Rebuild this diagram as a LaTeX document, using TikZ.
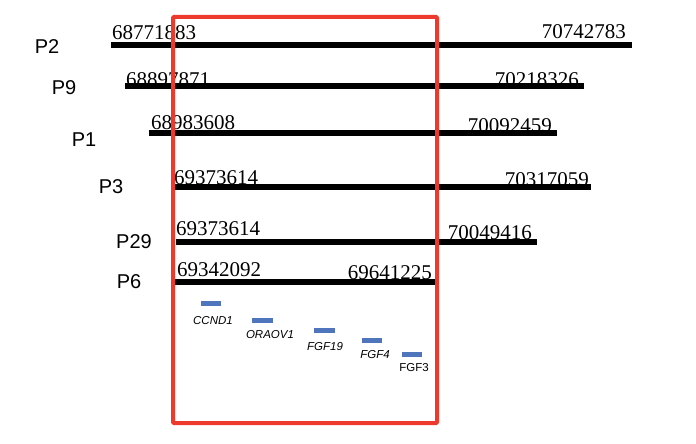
\documentclass[tikz,border=0pt]{standalone}
\usepackage{fontspec}
\setmainfont{Liberation Serif}
\newfontfamily\arialfont{Liberation Sans}
\definecolor{boxred}{HTML}{EE3A2C}
\definecolor{geneblue}{HTML}{4F75BC}
\begin{document}
\begin{tikzpicture}[x=1pt,y=-1pt,
  bar/.style={line width=6.5pt,black},
  numtxt/.style={inner sep=0pt,font=\fontsize{21}{21}\selectfont},
  lpostxt/.style={numtxt,anchor=base west},
  rpostxt/.style={numtxt,anchor=base east},
  pname/.style={inner sep=0pt,font=\arialfont\fontsize{20}{20}\selectfont},
  gene/.style={line width=5pt,geneblue},
  glab/.style={inner sep=0pt,font=\arialfont\itshape\fontsize{11.5}{11.5}\selectfont},
  glabup/.style={inner sep=0pt,font=\arialfont\fontsize{11.5}{11.5}\selectfont}]
\useasboundingbox (0,0) rectangle (696,444);
% patient labels
\node[pname] (nP2) at (47,47) {P2};
\node[pname] (nP9) at (64,88) {P9};
\node[pname] (nP1) at (84,140) {P1};
\node[pname] (nP3) at (111,187) {P3};
\node[pname] (nP29) at (134,242) {P29};
\node[pname] (nP6) at (129,282) {P6};
% bars
\coordinate (a2) at (111,45);  \coordinate (b2) at (632,45);
\coordinate (a9) at (125,86);  \coordinate (b9) at (584,86);
\coordinate (a1) at (149,133); \coordinate (b1) at (557,133);
\coordinate (a3) at (174,187); \coordinate (b3) at (591,187);
\coordinate (a29) at (176,242); \coordinate (b29) at (537,242);
\coordinate (a6) at (172,282); \coordinate (b6) at (436,282);
\draw[bar] (a2) -- (b2);
\draw[bar] (a9) -- (b9);
\draw[bar] (a1) -- (b1);
\draw[bar] (a3) -- (b3);
\draw[bar] (a29) -- (b29);
\draw[bar] (a6) -- (b6);
% positions
\node[lpostxt] (l2) at (112,40) {68771883};
\node[rpostxt] (r2) at (626,39) {70742783};
\node[lpostxt] (l9) at (126,86) {68897871};
\node[rpostxt] (r9) at (579,86) {70218326};
\node[lpostxt] (l1) at (151,129) {68983608};
\node[rpostxt] (r1) at (552,132) {70092459};
\node[lpostxt] (l3) at (174,184) {69373614};
\node[rpostxt] (r3) at (589,186) {70317059};
\node[lpostxt] (l29) at (176,235) {69373614};
\node[rpostxt] (r29) at (532,239) {70049416};
\node[lpostxt] (l6) at (177,276) {69342092};
\node[rpostxt] (r6) at (432,279) {69641225};
% genes
\coordinate (g1a) at (201,303); \coordinate (g1b) at (221,303);
\coordinate (g2a) at (252,320); \coordinate (g2b) at (273,320);
\coordinate (g3a) at (314,330); \coordinate (g3b) at (335,330);
\coordinate (g4a) at (362,340); \coordinate (g4b) at (382,340);
\coordinate (g5a) at (402,354); \coordinate (g5b) at (422,354);
\draw[gene] (g1a) -- (g1b);
\draw[gene] (g2a) -- (g2b);
\draw[gene] (g3a) -- (g3b);
\draw[gene] (g4a) -- (g4b);
\draw[gene] (g5a) -- (g5b);
\node[glab] (t1) at (213,321) {CCND1};
\node[glab] (t2) at (270,335) {ORAOV1};
\node[glab] (t3) at (325,347) {FGF19};
\node[glab] (t4) at (375,355) {FGF4};
\node[glabup] (t5) at (414,368) {FGF3};
% red box
\draw[boxred,line width=4pt,rounded corners=1pt] (173,17) rectangle (437,423);
\end{tikzpicture}
\end{document}
